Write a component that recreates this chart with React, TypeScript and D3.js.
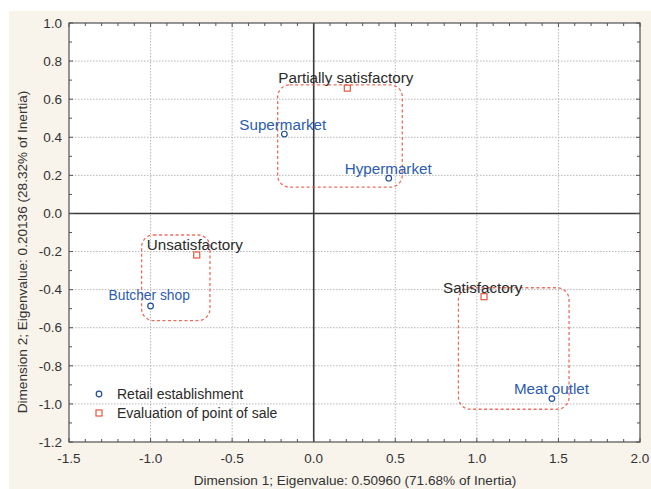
import React from "react";
import * as d3 from "d3";

const retailNames = ["Supermarket", "Hypermarket", "Butcher shop", "Meat outlet"];
const retailX = [-0.18, 0.46, -1.0, 1.46];
const retailY = [0.417, 0.185, -0.486, -0.972];

const evalNames = ["Partially satisfactory", "Unsatisfactory", "Satisfactory"];
const evalX = [0.206, -0.717, 1.044];
const evalY = [0.658, -0.218, -0.437];

// cluster outlines (data units): x0, x1, yTop, yBottom
const boxX0 = [-0.221, -1.055, 0.887];
const boxX1 = [0.543, -0.636, 1.565];
const boxYTop = [0.675, -0.113, -0.39];
const boxYBottom = [0.138, -0.563, -1.028];

const xTicks = [-1.5, -1.0, -0.5, 0.0, 0.5, 1.0, 1.5, 2.0];
const yTicks = [1.0, 0.8, 0.6, 0.4, 0.2, 0.0, -0.2, -0.4, -0.6, -0.8, -1.0, -1.2];

const legendLabels = ["Retail establishment", "Evaluation of point of sale"];
const xTitle = "Dimension 1; Eigenvalue: 0.50960 (71.68% of Inertia)";
const yTitle = "Dimension 2; Eigenvalue: 0.20136 (28.32% of Inertia)";

// label offsets relative to point (pixels)
const retailLabelDx = [-45, -44, -42, -38];
const retailLabelDy = [-4, -4, -6, -5];
const evalLabelDx = [-69, -50, -41];
const evalLabelDy = [-5, -5, -4];

const W = 651, H = 489;
const L = 69, R = 640, T = 23, B = 442;

const BLUE = "#2a5cb0";
const RED = "#e8553f";
const DARK = "#2a2a2a";
const FONT = "'Liberation Sans', Arial, sans-serif";

export default function App() {
  const x = d3.scaleLinear().domain([-1.5, 2.0]).range([L, R]);
  const y = d3.scaleLinear().domain([-1.2, 1.0]).range([B, T]);

  const xMinor = d3.range(-1.5, 2.0001, 0.1).map((v) => +v.toFixed(2));
  const yMinor = d3.range(-1.2, 1.0001, 0.1).map((v) => +v.toFixed(2));
  const isMajorX = (v: number) => Math.abs(v * 2 - Math.round(v * 2)) < 1e-6;
  const isMajorY = (v: number) => Math.abs(v * 5 - Math.round(v * 5)) < 1e-6;

  return (
    <svg width={W} height={H} style={{ position: "absolute", left: 0, top: 0 }}>
      <rect x={9} y={11} width={W - 9} height={H - 11} fill="#f8f4ec" />
      <rect x={L} y={T} width={R - L} height={B - T} fill="#ffffff" />
      {/* grid */}
      {xTicks.slice(1, -1).map((v) => (
        <line key={"gx" + v} x1={x(v)} x2={x(v)} y1={T} y2={B} stroke="#b8b8b8" strokeWidth={1} strokeDasharray="1.5,1.5" />
      ))}
      {yTicks.slice(1, -1).map((v) => (
        <line key={"gy" + v} x1={L} x2={R} y1={y(v)} y2={y(v)} stroke="#b8b8b8" strokeWidth={1} strokeDasharray="1.5,1.5" />
      ))}
      {/* zero lines */}
      <line x1={x(0)} x2={x(0)} y1={T} y2={B} stroke="#3a3a3a" strokeWidth={1.6} />
      <line x1={L} x2={R} y1={y(0)} y2={y(0)} stroke="#3a3a3a" strokeWidth={1.6} />
      {/* ticks */}
      {xMinor.map((v) => {
        const len = isMajorX(v) ? 4 : 3;
        return (
          <g key={"tx" + v}>
            <line x1={x(v)} x2={x(v)} y1={B} y2={B - len} stroke="#555" />
            <line x1={x(v)} x2={x(v)} y1={T} y2={T + len} stroke="#555" />
          </g>
        );
      })}
      {yMinor.map((v) => {
        const len = isMajorY(v) ? 4 : 3;
        return (
          <g key={"ty" + v}>
            <line x1={L} x2={L + len} y1={y(v)} y2={y(v)} stroke="#555" />
            <line x1={R} x2={R - len} y1={y(v)} y2={y(v)} stroke="#555" />
          </g>
        );
      })}
      <rect x={L} y={T} width={R - L} height={B - T} fill="none" stroke="#505050" strokeWidth={1.2} />
      {/* tick labels */}
      {yTicks.map((v) => (
        <text key={"ly" + v} x={L - 7} y={y(v)} dy="0.35em" textAnchor="end" fontFamily={FONT} fontSize={13.5} fill="#333">
          {v.toFixed(1)}
        </text>
      ))}
      {xTicks.map((v) => (
        <text key={"lx" + v} x={x(v)} y={B + 16} dy="0.35em" textAnchor="middle" fontFamily={FONT} fontSize={13.5} fill="#333">
          {v.toFixed(1)}
        </text>
      ))}
      {/* axis titles */}
      <text x={355} y={480} dy="0.35em" textAnchor="middle" fontFamily={FONT} fontSize={13.6} fill="#333">
        {xTitle}
      </text>
      <text transform={`translate(22,252) rotate(-90)`} dy="0.35em" textAnchor="middle" fontFamily={FONT} fontSize={13.6} fill="#333">
        {yTitle}
      </text>
      {/* cluster boxes */}
      {boxX0.map((v, i) => (
        <rect
          key={"b" + i}
          x={x(v)}
          y={y(boxYTop[i])}
          width={x(boxX1[i]) - x(v)}
          height={y(boxYBottom[i]) - y(boxYTop[i])}
          rx={12}
          ry={12}
          fill="none"
          stroke={RED}
          strokeOpacity={0.85}
          strokeWidth={1.3}
          strokeDasharray="3,2.5"
        />
      ))}
      {/* eval points */}
      {evalX.map((v, i) => (
        <g key={"e" + i}>
          <text x={x(v) + evalLabelDx[i]} y={y(evalY[i]) + evalLabelDy[i]} fontFamily={FONT} fontSize={15.2} fill={DARK}>
            {evalNames[i]}
          </text>
          <rect x={x(v) - 3} y={y(evalY[i]) - 3} width={6} height={6} fill="#fff" stroke={RED} strokeWidth={1.2} />
        </g>
      ))}
      {/* retail points */}
      {retailX.map((v, i) => (
        <g key={"r" + i}>
          <text x={x(v) + retailLabelDx[i]} y={y(retailY[i]) + retailLabelDy[i]} fontFamily={FONT} fontSize={i === 2 ? 13.8 : 15.2} fill={BLUE}>
            {retailNames[i]}
          </text>
          <circle cx={x(v)} cy={y(retailY[i])} r={2.8} fill="#fff" stroke="#1f4e9e" strokeWidth={1.2} />
        </g>
      ))}
      {/* legend */}
      <circle cx={99} cy={394} r={2.8} fill="#fff" stroke="#1f4e9e" strokeWidth={1.2} />
      <rect x={96} y={410} width={6} height={6} fill="#fff" stroke={RED} strokeWidth={1.2} />
      {legendLabels.map((s, i) => (
        <text key={"lg" + i} x={117} y={394 + i * 19} dy="0.35em" fontFamily={FONT} fontSize={14} fill={DARK}>
          {s}
        </text>
      ))}
    </svg>
  );
}
